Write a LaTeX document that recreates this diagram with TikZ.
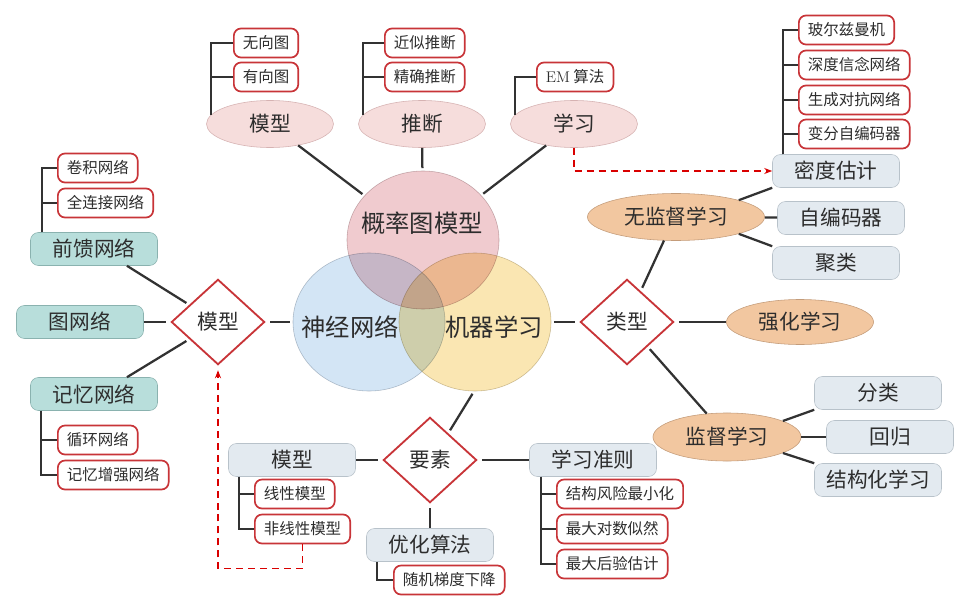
\documentclass[tikz,border=0pt]{standalone}
\usepackage{fontspec}
\usepackage{tikz}
\usetikzlibrary{shapes.geometric, arrows.meta}
\newfontfamily\cjk{Noto Sans CJK SC}
\definecolor{mmred}{RGB}{200, 52, 56}
\definecolor{mmline}{RGB}{50, 50, 50}
\definecolor{mmtext}{RGB}{45, 45, 45}
\definecolor{mmpink}{RGB}{246, 221, 220}
\definecolor{mmpinkd}{RGB}{214, 178, 178}
\definecolor{mmorange}{RGB}{242, 199, 160}
\definecolor{mmoranged}{RGB}{196, 156, 122}
\definecolor{mmteal}{RGB}{184, 222, 219}
\definecolor{mmteald}{RGB}{138, 178, 175}
\definecolor{mmgray}{RGB}{227, 234, 240}
\definecolor{mmgrayd}{RGB}{184, 194, 202}
\definecolor{vnpink}{RGB}{240, 203, 207}
\definecolor{vnblue}{RGB}{211, 229, 245}
\definecolor{vnyellow}{RGB}{250, 230, 178}
\tikzset{
    mmnode/.style={font=\cjk\fontsize{14.7}{17}\selectfont, text=mmtext, inner sep=0pt},
    pinkell/.style={mmnode, ellipse, draw=mmpinkd, fill=mmpink, minimum width=3.175cm, minimum height=1.175cm},
    orangeell/.style={mmnode, ellipse, draw=mmoranged, fill=mmorange, minimum height=1.175cm},
    tealbox/.style={mmnode, rectangle, rounded corners=2mm, draw=mmteald, fill=mmteal, minimum width=3.175cm, minimum height=0.825cm},
    graybox/.style={tealbox, draw=mmgrayd, fill=mmgray},
    leafnode/.style={mmnode, font=\cjk\fontsize{11}{13}\selectfont, rectangle, rounded corners=1.8mm, draw=mmred, line width=1.2pt, fill=white, minimum height=0.725cm, inner xsep=0.225cm, anchor=west},
    diamnode/.style={mmnode, diamond, draw=mmred, line width=1.3pt, fill=white, minimum width=2.4cm, minimum height=2.2cm, outer sep=3pt},
    venn/.style={ellipse, draw=#1!70!black!60, fill=#1, blend mode=multiply, minimum width=3.8cm, minimum height=3.45cm, outer sep=2pt},
    venntext/.style={mmnode, font=\cjk\fontsize{17.3}{20}\selectfont},
    linkline/.style={draw=mmline, line width=1.6pt},
    treeline/.style={draw=mmline, line width=1.2pt},
    dashlink/.style={draw=red!85!black, line width=1pt, dash pattern=on 5pt off 3.5pt, -{Stealth[length=2mm]}}
}
\begin{document}
\begin{tikzpicture}[x=0.025cm, y=-0.025cm]
    \path[use as bounding box, fill=white] (0,0) rectangle (960,604);
    % venn
    \node[venn=vnblue] (nn) at (369,322) {};
    \node[venn=vnpink] (pgm) at (423,240) {};
    \node[venn=vnyellow] (ml) at (475,322) {};
    \node[venntext] (tpgm) at (422,223) {概率图模型};
    \node[venntext] (tnn) at (350,327) {神经网络};
    \node[venntext] (tml) at (494,327) {机器学习};
    % top
    \node[pinkell] (pm) at (270,124) {模型};
    \node[pinkell] (pi) at (422,124) {推断};
    \node[pinkell] (pl) at (574,124) {学习};
    \node[leafnode] (pm1) at (233,43) {无向图};
    \node[leafnode] (pm2) at (233,77) {有向图};
    \node[leafnode] (pi1) at (384,43) {近似推断};
    \node[leafnode] (pi2) at (384,77) {精确推断};
    \node[leafnode] (pl1) at (536,77) {{\rmfamily EM}\ 算法};
    % right
    \node[diamnode] (tp) at (627,322) {类型};
    \node[orangeell, minimum width=4.425cm] (us) at (676,217) {无监督学习};
    \node[orangeell, minimum width=3.675cm, minimum height=1.125cm] (rl) at (800,322) {强化学习};
    \node[orangeell, minimum width=3.7cm, minimum height=1.2cm] (sl) at (727,437) {监督学习};
    \node[graybox] (de) at (836,171) {密度估计};
    \node[graybox] (ae) at (841,218) {自编码器};
    \node[graybox] (cl) at (836,263) {聚类};
    \node[leafnode] (de1) at (798,30) {玻尔兹曼机};
    \node[leafnode] (de2) at (798,65) {深度信念网络};
    \node[leafnode] (de3) at (798,100) {生成对抗网络};
    \node[leafnode] (de4) at (798,134) {变分自编码器};
    \node[graybox] (cf) at (878,393) {分类};
    \node[graybox] (hg) at (890,437) {回归};
    \node[graybox] (sg) at (878,480) {结构化学习};
    % left
    \node[diamnode] (md) at (218,322) {模型};
    \node[tealbox] (ff) at (94,249) {前馈网络};
    \node[tealbox] (gn) at (80,322) {图网络};
    \node[tealbox] (mem) at (94,394) {记忆网络};
    \node[leafnode] (ff1) at (57,168) {卷积网络};
    \node[leafnode] (ff2) at (57,203) {全连接网络};
    \node[leafnode] (mem1) at (57,440) {循环网络};
    \node[leafnode] (mem2) at (57,475) {记忆增强网络};
    % bottom
    \node[diamnode] (ys) at (430,460) {要素};
    \node[graybox] (bm) at (292,460) {模型};
    \node[graybox] (lc) at (593,460) {学习准则};
    \node[graybox] (oa) at (430,545) {优化算法};
    \node[leafnode] (bm1) at (254,494) {线性模型};
    \node[leafnode] (bm2) at (254,529) {非线性模型};
    \node[leafnode] (lc1) at (556,494) {结构风险最小化};
    \node[leafnode] (lc2) at (556,529) {最大对数似然};
    \node[leafnode] (lc3) at (556,564) {最大后验估计};
    \node[leafnode] (oa1) at (393,580) {随机梯度下降};

    \draw[linkline] (pm) -- (pgm);
    \draw[linkline] (pi) -- (pgm);
    \draw[linkline] (pl) -- (pgm);
    \draw[linkline] (ff.-27) -- (md.149);
    \draw[linkline] (gn) -- (md);
    \draw[linkline] (mem.27) -- (md.211);
    \draw[linkline] (md) -- (nn);
    \draw[linkline] (ml) -- (tp);
    \draw[linkline] (ml.-92) -- (ys.56);
    \draw[linkline] (tp.66) -- (us.243);
    \draw[linkline] (tp) -- (rl);
    \draw[linkline] (tp.-50) -- (sl.131);
    \draw[linkline] (us.15) -- (de.south west);
    \draw[linkline] (us) -- (ae);
    \draw[linkline] (us.-15) -- (cl.north west);
    \draw[linkline] (sl.16) -- (cf.south west);
    \draw[linkline] (sl) -- (hg);
    \draw[linkline] (sl.-16) -- (sg.north west);
    \draw[linkline] (bm) -- (ys);
    \draw[linkline] (ys) -- (lc);
    \draw[linkline] (ys) -- (oa);

    \draw[treeline] (pm.171) |- (pm1.west);
    \draw[treeline] (pm.171) |- (pm2.west);
    \draw[treeline] (pi.171) |- (pi1.west);
    \draw[treeline] (pi.171) |- (pi2.west);
    \draw[treeline] (pl.171) |- (pl1.west);
    \foreach \k in {1,...,4}
        \draw[treeline] ([xshift=2.75mm]de.north west) |- (de\k.west);
    \foreach \k in {1,2} {
        \draw[treeline] ([xshift=3mm]ff.north west) |- (ff\k.west);
        \draw[treeline] ([xshift=2.75mm]mem.south west) |- (mem\k.west);
        \draw[treeline] ([xshift=2.75mm]bm.south west) |- (bm\k.west);
    }
    \foreach \k in {1,2,3}
        \draw[treeline] ([xshift=3mm]lc.south west) |- (lc\k.west);
    \draw[treeline] ([xshift=2.75mm]oa.south west) |- (oa1.west);

    \draw[dashlink] (pl.south) |- (de.west);
    \draw[dashlink] (bm2.south) -- ++(0,24) -| (md.south);
\end{tikzpicture}
\end{document}
